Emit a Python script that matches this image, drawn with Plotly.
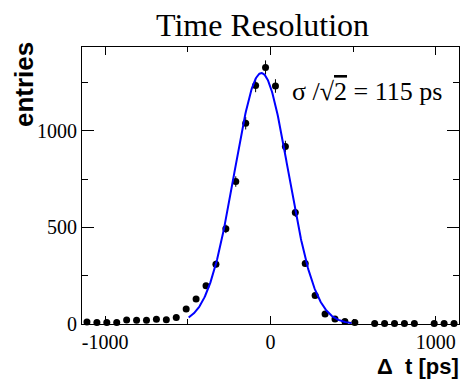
import numpy as np
import plotly.graph_objects as go

# Histogram bin centers (ps) and contents
bin_centers = [-1110, -1050, -990, -930, -870, -810, -750, -690, -630, -570,
               -510, -450, -390, -330, -270, -210, -150, -90, -30, 30,
               90, 150, 210, 270, 330, 390, 450, 510, 570, 630,
               690, 750, 810, 870, 930, 990, 1050, 1110]
entries = [11, 8, 8, 8, 21, 19, 19, 24, 22, 34,
           78, 129, 198, 310, 493, 738, 1040, 1236, 1329, 1233,
           919, 578, 314, 147, 52, 26, 13, 8, 0, 3,
           3, 3, 3, 3, 0, 3, 3, 3]

# Gaussian fit parameters
fit_amplitude = 1300.0
fit_mean = -55.0
fit_sigma = 162.6
fit_range = [-495, 490]

x_ticks = [-1000, 0, 1000]
x_ticktext = ["-1000", "0", "1000"]
y_ticks = [0, 500, 1000]
y_ticktext = ["0", "500", "1000"]

# Only draw non-empty bins
xs = [x for x, n in zip(bin_centers, entries) if n > 0]
ys = [n for n in entries if n > 0]
errs = [float(np.sqrt(n)) for n in ys]

fx = np.linspace(fit_range[0], fit_range[1], 300)
fy = fit_amplitude * np.exp(-0.5 * ((fx - fit_mean) / fit_sigma) ** 2)

serif = "Liberation Serif"
sans = "Liberation Sans"

fig = go.Figure()
fig.add_trace(go.Scatter(
    x=xs, y=ys, mode="markers",
    marker=dict(color="black", size=7, symbol="circle"),
    error_y=dict(type="data", array=errs, visible=True, color="black",
                 thickness=1, width=0),
    showlegend=False, cliponaxis=False,
))
fig.add_trace(go.Scatter(
    x=fx, y=fy, mode="lines",
    line=dict(color="#0000ff", width=2),
    showlegend=False,
))

fig.update_layout(
    width=463, height=381,
    margin=dict(l=82, r=4, t=47, b=57),
    paper_bgcolor="white", plot_bgcolor="white",
    font=dict(family=serif, color="black"),
    annotations=[
        dict(text="Time Resolution", xref="paper", yref="paper",
             x=0.479, y=1.0, xanchor="center", yanchor="bottom",
             yshift=2, showarrow=False,
             font=dict(family=serif, size=32, color="black")),
        dict(text="σ /√<span style='text-decoration:overline'>2</span> = 115 ps",
             xref="paper", yref="paper",
             x=0.553, y=0.84, xanchor="left", yanchor="middle",
             showarrow=False,
             font=dict(family=serif, size=26, color="black")),
        dict(text="<b>entries</b>", xref="paper", yref="paper",
             x=-0.155, y=1.0, xanchor="center", yanchor="top",
             yshift=7, textangle=-90, showarrow=False,
             font=dict(family=sans, size=26, color="black")),
        dict(text="<b>Δ  t [ps]</b>", xref="paper", yref="paper",
             x=1.004, y=-0.1, xanchor="right", yanchor="top",
             showarrow=False,
             font=dict(family=sans, size=22, color="black")),
    ],
)

fig.update_xaxes(
    range=[-1140, 1140], showgrid=False, zeroline=False,
    showline=True, linecolor="black", linewidth=1, mirror="ticks",
    ticks="inside", ticklen=8, tickcolor="black", tickwidth=1,
    tickvals=x_ticks, ticktext=x_ticktext,
    tickfont=dict(family=serif, size=20, color="black"),
    minor=dict(ticks="inside", ticklen=5, dtick=500, tick0=0,
               tickcolor="black", showgrid=False),
)
fig.update_yaxes(
    range=[0, 1435], showgrid=False, zeroline=False,
    showline=True, linecolor="black", linewidth=1, mirror="ticks",
    ticks="inside", ticklen=12, tickcolor="black", tickwidth=1,
    tickvals=y_ticks, ticktext=y_ticktext,
    tickfont=dict(family=serif, size=20, color="black"),
    minor=dict(ticks="inside", ticklen=6, dtick=250, tick0=0,
               tickcolor="black", showgrid=False),
)

fig.write_html("out.html")
